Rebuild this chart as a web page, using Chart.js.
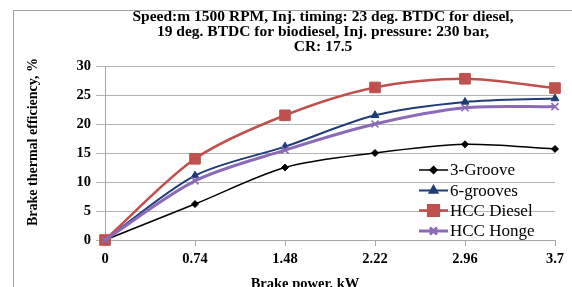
<!DOCTYPE html>
<html>
<head>
<meta charset="utf-8">
<script src="https://cdn.jsdelivr.net/npm/chart.js@4.4.1/dist/chart.umd.min.js"></script>
<style>
  body { margin: 0; background: #fff; }
  canvas { display: block; }
</style>
</head>
<body>
<canvas id="bteChart" width="572" height="287"></canvas>
<script>
// --- DATA ---
const brakePower = ["0", "0.74", "1.48", "2.22", "2.96", "3.7"];
const groove3 = [0, 6.2, 12.5, 15.0, 16.5, 15.7];
const grooves6 = [0, 11.1, 16.1, 21.5, 23.8, 24.4];
const hccDiesel = [0, 14.0, 21.5, 26.3, 27.8, 26.2];
const hccHonge = [0, 10.2, 15.5, 20.0, 22.8, 23.0];
const yTicks = [0, 5, 10, 15, 20, 25, 30];

const titleLines = [
    "Speed:m 1500 RPM, Inj. timing: 23 deg. BTDC for diesel,",
    "19 deg. BTDC for biodiesel, Inj. pressure: 230 bar,",
    "CR: 17.5"
];
const yTitle = "Brake thermal efficiency, %";
const xTitle = "Brake power, kW";

const serif = "'Liberation Serif', 'Times New Roman', serif";

function series(label, data, color, width, style, radius, order) {
    return {
        label: label,
        data: data,
        borderColor: color,
        backgroundColor: color,
        borderWidth: width,
        pointStyle: style,
        pointRadius: radius,
        pointBorderWidth: style === "crossRot" ? 1.6 : 1,
        pointBackgroundColor: color,
        pointBorderColor: color,
        tension: 0.3,
        clip: false,
        order: order
    };
}

// --- TEXT + LEGEND DRAWN ON TOP ---
const decorations = {
    id: "decorations",
    beforeDraw(chart) {
        const ctx = chart.ctx;
        ctx.save();
        ctx.strokeStyle = "#a0a0a0";
        ctx.lineWidth = 1;
        ctx.beginPath();
        ctx.moveTo(13.5, 287);
        ctx.lineTo(13.5, 10.5);
        ctx.lineTo(572, 10.5);
        ctx.stroke();
        ctx.restore();
    },
    afterDraw(chart) {
        const ctx = chart.ctx;
        ctx.save();
        ctx.fillStyle = "#000";
        ctx.textAlign = "center";
        ctx.textBaseline = "middle";

        ctx.font = "bold 15.5px " + serif;
        titleLines.forEach((line, i) => {
            ctx.fillText(line, 323, 17 + i * 14.8);
        });

        ctx.font = "bold 14.5px " + serif;
        ctx.fillText(xTitle, 305, 284);

        ctx.save();
        ctx.translate(33, 142);
        ctx.rotate(-Math.PI / 2);
        ctx.font = "bold 14px " + serif;
        ctx.fillText(yTitle, 0, 0);
        ctx.restore();

        // legend
        ctx.font = "17px " + serif;
        ctx.textAlign = "left";
        const rows = [170, 190.5, 210.5, 231];
        chart.data.datasets.forEach((ds, i) => {
            const y = rows[i];
            ctx.strokeStyle = ds.borderColor;
            ctx.lineWidth = ds.borderWidth;
            ctx.beginPath();
            ctx.moveTo(419, y);
            ctx.lineTo(448, y);
            ctx.stroke();
            ctx.fillStyle = ds.backgroundColor;
            ctx.strokeStyle = ds.borderColor;
            Chart.helpers.drawPoint(ctx, {
                pointStyle: ds.pointStyle,
                radius: ds.pointRadius,
                borderWidth: ds.pointBorderWidth
            }, 433.5, y);
            ctx.fillStyle = "#000";
            ctx.fillText(ds.label, 450, y + 1);
        });
        ctx.restore();
    }
};

// --- CHART ---
new Chart(document.getElementById("bteChart"), {
    type: "line",
    data: {
        labels: brakePower,
        datasets: [
            series("3-Groove", groove3, "#000000", 1.5, "rectRot", 3.5, 4),
            series("6-grooves", grooves6, "#1f3b78", 2, "triangle", 4.5, 3),
            series("HCC Diesel", hccDiesel, "#c0504d", 2.6, "rect", 7.5, 2),
            series("HCC Honge", hccHonge, "#8b6bb8", 3, "crossRot", 5, 1)
        ]
    },
    options: {
        responsive: false,
        animation: false,
        devicePixelRatio: 1,
        layout: { padding: { top: 66, right: 17, left: 0, bottom: 0 } },
        plugins: {
            legend: { display: false },
            title: { display: false },
            tooltip: { enabled: false }
        },
        scales: {
            x: {
                type: "category",
                offset: false,
                afterFit: s => { s.height = 47; },
                grid: {
                    drawOnChartArea: false,
                    color: "#a6a6a6",
                    tickLength: 6
                },
                border: { color: "#a6a6a6" },
                ticks: {
                    color: "#000",
                    padding: 5,
                    maxRotation: 0,
                    font: { family: serif, size: 14.5, weight: "bold" }
                }
            },
            y: {
                min: 0,
                max: 30,
                afterFit: s => { s.width = 105; },
                afterBuildTicks: s => { s.ticks = yTicks.map(v => ({ value: v })); },
                grid: {
                    color: "#b4b4b4",
                    tickLength: 9,
                    lineWidth: 1
                },
                border: { color: "#a6a6a6" },
                ticks: {
                    color: "#000",
                    padding: 5,
                    font: { family: serif, size: 14.5, weight: "bold" }
                }
            }
        }
    },
    plugins: [decorations]
});
</script>
</body>
</html>
